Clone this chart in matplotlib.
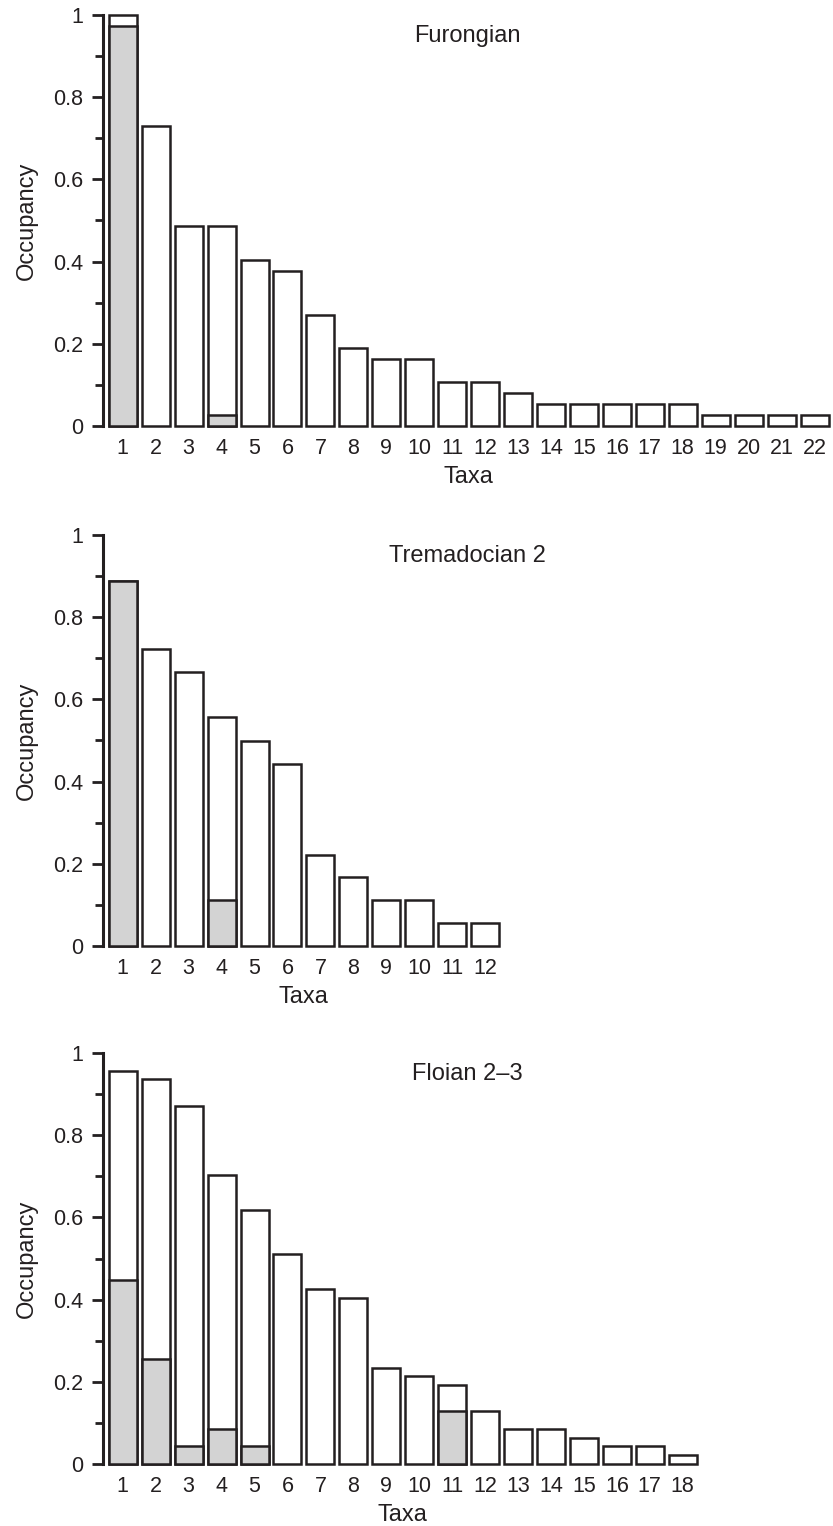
import numpy as np
import matplotlib.pyplot as plt
from matplotlib.ticker import MultipleLocator

plt.rcParams['font.family'] = ['Liberation Sans', 'DejaVu Sans']

# data to plot
titles = ['Furongian', 'Tremadocian 2', 'Floian 2\u20133']

furongian_total = [1.0, 0.730, 0.486, 0.486, 0.405, 0.378, 0.270, 0.189, 0.162, 0.162, 0.108,
                   0.108, 0.081, 0.054, 0.054, 0.054, 0.054, 0.054, 0.027, 0.027, 0.027, 0.027]
furongian_grey = [0.973, 0, 0, 0.027, 0, 0, 0, 0, 0, 0, 0,
                  0, 0, 0, 0, 0, 0, 0, 0, 0, 0, 0]

tremadocian_total = [0.889, 0.722, 0.667, 0.556, 0.500, 0.444, 0.222, 0.167, 0.111, 0.111, 0.056, 0.056]
tremadocian_grey = [0.889, 0, 0, 0.111, 0, 0, 0, 0, 0, 0, 0, 0]

floian_total = [0.957, 0.936, 0.872, 0.702, 0.617, 0.511, 0.426, 0.404, 0.234, 0.213, 0.191,
                0.128, 0.085, 0.085, 0.064, 0.043, 0.043, 0.021]
floian_grey = [0.447, 0.255, 0.043, 0.085, 0.043, 0, 0, 0, 0, 0, 0.128,
               0, 0, 0, 0, 0, 0, 0]

totals = [furongian_total, tremadocian_total, floian_total]
greys = [furongian_grey, tremadocian_grey, floian_grey]

ytick_vals = [0, 0.2, 0.4, 0.6, 0.8, 1]
ytick_labels = ['0', '0.2', '0.4', '0.6', '0.8', '1']

ink = '#231f20'
grey_fill = '#d3d3d3'

W, H = 833, 1526
fig = plt.figure(figsize=(W / 100, H / 100), dpi=100)

px_per_unit = 32.94
left_px = 103
zero_px = [426, 946, 1464]
height_px = 411

for i in range(3):
    total = np.array(totals[i])
    grey = np.array(greys[i])
    n = len(total)
    x = np.arange(1, n + 1)
    width_px = (n + 0.2) * px_per_unit
    ax = fig.add_axes([left_px / W, (H - zero_px[i]) / H, width_px / W, height_px / H])

    ax.bar(x, total, 0.85, color='white', edgecolor=ink, linewidth=1.8, clip_on=False, zorder=2)
    m = grey > 0
    ax.bar(x[m], grey[m], 0.85, color=grey_fill, edgecolor=ink, linewidth=1.8, clip_on=False, zorder=3)

    ax.set_xlim(0.4, n + 0.6)
    ax.set_ylim(0, 1)
    for s in ['top', 'right', 'bottom']:
        ax.spines[s].set_visible(False)
    ax.spines['left'].set_bounds(0, 1)
    ax.spines['left'].set_linewidth(2.2)
    ax.spines['left'].set_color(ink)

    ax.set_xticks(x)
    ax.set_xticklabels([str(v) for v in x])
    ax.tick_params(axis='x', length=0, pad=9, labelsize=15.5, labelcolor=ink)
    ax.set_yticks(ytick_vals)
    ax.set_yticklabels(ytick_labels)
    ax.yaxis.set_minor_locator(MultipleLocator(0.1))
    ax.tick_params(axis='y', which='major', length=8, width=2.0, color=ink, pad=6,
                   labelsize=15.5, labelcolor=ink)
    ax.tick_params(axis='y', which='minor', length=5.5, width=2.0, color=ink)

    ax.set_xlabel('Taxa', fontsize=17, color=ink, labelpad=5)
    ax.set_ylabel('Occupancy', fontsize=17, color=ink, labelpad=11)
    ax.text(11.46, 0.948, titles[i], ha='center', va='center', fontsize=17, color=ink)

plt.savefig('out.png', dpi=100)
